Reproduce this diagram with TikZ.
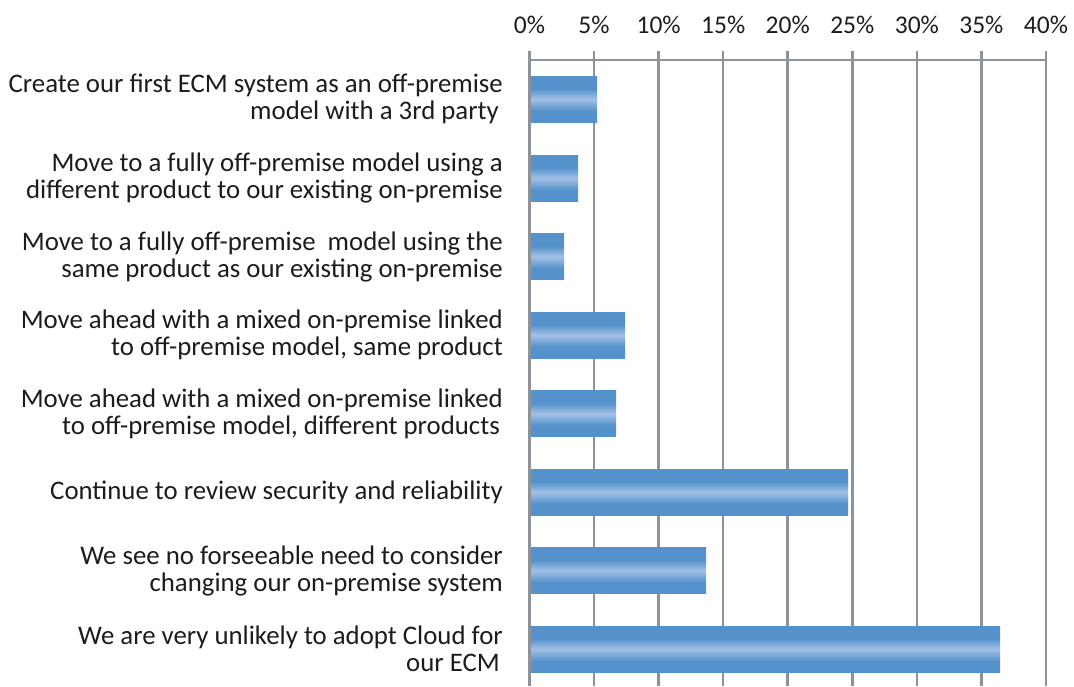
\documentclass[tikz,border=0pt]{standalone}
\usepackage{fontspec}
\setmainfont{Carlito}
\definecolor{barblue}{HTML}{5592CB}
\definecolor{barlight}{HTML}{A3C0E6}
\definecolor{gridgray}{HTML}{8E939A}
\definecolor{labeltext}{HTML}{1E1B1C}
% bar fill: solid blue with a light horizontal band through the middle
\pgfdeclareverticalshading{barshade}{100bp}{color(0bp)=(barblue); color(25bp)=(barblue); color(37bp)=(barblue); color(50bp)=(barlight); color(61bp)=(barblue); color(75bp)=(barblue); color(100bp)=(barblue)}
\tikzset{
  grid/.style={draw=gridgray, line width=2.6pt},
  tick/.style={anchor=base, inner sep=0pt, font=\fontsize{25.5}{27}\selectfont, text=labeltext},
  lab/.style={anchor=east, align=right, inner sep=0pt, font=\fontsize{26.8}{27}\selectfont, text=labeltext},
  bar/.style={shading=barshade}
}
\begin{document}
\begin{tikzpicture}[x=1pt,y=-1pt]
\useasboundingbox (0,0) rectangle (1074,686);
% value axis: gridlines every 5 %
\foreach \i/\t in {0/0,1/5,2/10,3/15,4/20,5/25,6/30,7/35,8/40}{
  \draw[grid] (529.5+64.56*\i,51) -- (529.5+64.56*\i,686);
  \node[tick] (t\i) at (529.5+64.56*\i,33) {\t\%};
}
\draw[grid] (528.2,60) -- (1047.3,60);
% bars (top edge, bar end)
\foreach \k/\top/\e in {1/76/597, 2/155/578, 3/233.5/564, 4/312/625, 5/390.5/616, 6/469/848, 7/547.5/706, 8/626/1000}{
  \shade[bar] (531,\top) rectangle (\e,\top+46);
}
% category labels
\node[lab] (c1) at (503,99) {Create our first ECM system as an off-premise\\model with a 3rd party\kern4pt};
\node[lab] (c2) at (503,178) {Move to a fully off-premise model using a\\different product to our existing on-premise};
\node[lab] (c3) at (503,256.5) {Move to a fully off-premise~ model using the\\same product as our existing on-premise};
\node[lab] (c4) at (503,335) {Move ahead with a mixed on-premise linked\\to off-premise model, same product};
\node[lab] (c5) at (503,413.5) {Move ahead with a mixed on-premise linked\\to off-premise model, different products\kern3pt};
\node[lab] (c6) at (503,492) {Continue to review security and reliability};
\node[lab] (c7) at (503,570.5) {We see no forseeable need to consider\\changing our on-premise system};
\node[lab] (c8) at (503,649) {We are very unlikely to adopt Cloud for\\our ECM\kern3pt};
\end{tikzpicture}
\end{document}
